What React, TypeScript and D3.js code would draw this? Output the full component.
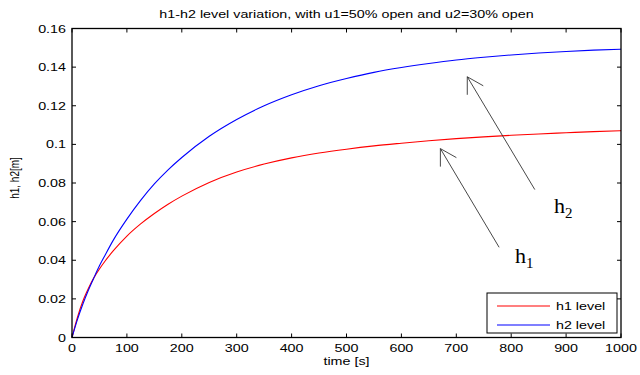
import React from 'react';
import * as d3 from 'd3';

// time samples [s] and levels [m]
const times = [0, 10, 20, 30, 40, 50, 60, 75, 100, 125, 150, 175, 200, 250, 300, 350, 400, 450, 500, 550, 600, 650, 700, 750, 800, 850, 900, 950, 1000];
const h1Level = [0, 0.0105, 0.019, 0.0255, 0.031, 0.0355, 0.0395, 0.0448, 0.0525, 0.0588, 0.0642, 0.069, 0.0732, 0.0803, 0.0857, 0.0898, 0.093, 0.0955, 0.0975, 0.0992, 0.1006, 0.1019, 0.103, 0.1039, 0.1047, 0.1054, 0.106, 0.1066, 0.1071];
const h2Level = [0, 0.0094, 0.0175, 0.0246, 0.031, 0.0371, 0.0425, 0.0503, 0.0613, 0.071, 0.0795, 0.0868, 0.0932, 0.1042, 0.1129, 0.12, 0.1257, 0.1304, 0.1341, 0.1373, 0.1398, 0.1419, 0.1437, 0.1451, 0.1463, 0.1473, 0.1481, 0.1488, 0.1493];

const xTicks = [0, 100, 200, 300, 400, 500, 600, 700, 800, 900, 1000];
const yTicks = [0, 0.02, 0.04, 0.06, 0.08, 0.1, 0.12, 0.14, 0.16];

const seriesNames = ['h1 level', 'h2 level'];
const seriesColors = ['#ff0000', '#0000ff'];

// annotation arrows in data units: [label, sub, tipT, tipH, tailT, tailH, labelT, labelH]
const arrows: [string, string, number, number, number, number, number, number][] = [
  ['h', '2', 720, 0.135, 843, 0.0766, 878, 0.0647],
  ['h', '1', 671, 0.0978, 778, 0.0467, 807, 0.0384],
];

const W = 640;
const H = 375;
const margin = { top: 28.5, right: 19, bottom: 37.5, left: 72 };
const SX = 1.3; // the source picture is stretched sideways
const FONT = '"Liberation Sans", Arial, sans-serif';

const Txt = ({ x, y, size = 11, anchor = 'start', children }: any) => (
  <text
    transform={`translate(${x},${y}) scale(${SX},1)`}
    fontFamily={FONT}
    fontSize={size}
    textAnchor={anchor}
    fill="#000"
  >
    {children}
  </text>
);

const App = () => {
  const x = d3.scaleLinear().domain([0, 1000]).range([margin.left, W - margin.right]);
  const y = d3.scaleLinear().domain([0, 0.16]).range([H - margin.bottom, margin.top]);

  const line = d3.line<number>()
    .x((_, i) => x(times[i]))
    .y(d => y(d))
    .curve(d3.curveMonotoneX);

  const fmtY = (v: number) => String(+v.toFixed(2));
  const x0 = x(0), x1 = x(1000), y0 = y(0), y1 = y(0.16);
  const tick = 4;

  const legend = { x: 487, y: 293, w: 130, h: 40 };

  return (
    <svg width={W} height={H} style={{ position: 'absolute', left: 0, top: 0, background: '#fff' }}>
      <rect width={W} height={H} fill="#fff" />

      {/* series */}
      {[h1Level, h2Level].map((s, i) => (
        <path key={i} d={line(s) || ''} fill="none" stroke={seriesColors[i]} strokeWidth={1.1} />
      ))}

      {/* axes box + inward ticks */}
      <rect x={x0} y={y1} width={x1 - x0} height={y0 - y1} fill="none" stroke="#000" strokeWidth={1.3} />
      {xTicks.map(t => (
        <g key={'x' + t}>
          <line x1={x(t)} x2={x(t)} y1={y0} y2={y0 - tick} stroke="#000" />
          <line x1={x(t)} x2={x(t)} y1={y1} y2={y1 + tick} stroke="#000" />
          <Txt x={x(t)} y={y0 + 14} anchor="middle">{t}</Txt>
        </g>
      ))}
      {yTicks.map(t => (
        <g key={'y' + t}>
          <line x1={x0} x2={x0 + tick} y1={y(t)} y2={y(t)} stroke="#000" />
          <line x1={x1} x2={x1 - tick} y1={y(t)} y2={y(t)} stroke="#000" />
          <Txt x={x0 - 6} y={y(t) + 4} anchor="end">{fmtY(t)}</Txt>
        </g>
      ))}

      {/* titles */}
      <Txt x={(x0 + x1) / 2} y={18} anchor="middle">h1-h2 level variation, with u1=50% open and u2=30% open</Txt>
      <Txt x={(x0 + x1) / 2} y={365} anchor="middle">time [s]</Txt>
      <text
        transform={`translate(19,178) rotate(-90) scale(1,1.2)`}
        fontFamily={FONT}
        fontSize={10}
        textAnchor="middle"
      >
        h1, h2[m]
      </text>

      {/* annotation arrows */}
      {arrows.map(([lab, sub, tt, th, at, ah, lt, lh]) => {
        const tx = x(tt), ty = y(th);
        return (
          <g key={lab + sub} stroke="#333" strokeWidth={0.9} fill="none">
            <line x1={x(at)} y1={y(ah)} x2={tx} y2={ty} />
            <line x1={tx} y1={ty} x2={tx} y2={ty + 18} />
            <line x1={tx} y1={ty} x2={tx + 16} y2={ty + 9} />
            <text x={x(lt)} y={y(lh)} fontFamily='"Liberation Serif", "Times New Roman", serif' fontSize={22} fill="#000" stroke="none">
              {lab}
              <tspan fontSize={15} dy={5}>{sub}</tspan>
            </text>
          </g>
        );
      })}

      {/* legend */}
      <rect x={legend.x} y={legend.y} width={legend.w} height={legend.h} fill="#fff" stroke="#000" strokeWidth={1} />
      {seriesNames.map((n, i) => (
        <g key={n}>
          <line x1={legend.x + 10} x2={legend.x + 63} y1={legend.y + 13 + i * 19} y2={legend.y + 13 + i * 19} stroke={seriesColors[i]} strokeWidth={1.1} />
          <Txt x={legend.x + 69} y={legend.y + 17 + i * 19}>{n}</Txt>
        </g>
      ))}
    </svg>
  );
};

export default App;
